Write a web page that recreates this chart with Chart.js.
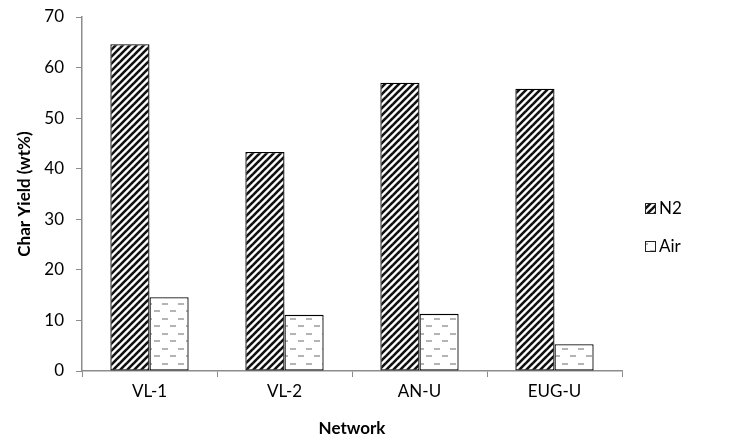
<!DOCTYPE html>
<html lang="en">
<head>
    <meta charset="UTF-8">
    <title>Char Yield</title>
    <style>
        html, body { margin: 0; padding: 0; background: #fff; }
        #wrap { width: 738px; height: 443px; }
    </style>
</head>
<body>
    <div id="wrap">
        <canvas id="myChart" width="738" height="443"></canvas>
    </div>

    <script src="https://cdn.jsdelivr.net/npm/chart.js"></script>

    <script>
        const categories = ['VL-1', 'VL-2', 'AN-U', 'EUG-U']
        const n2Values = [64.6, 43.3, 57.0, 55.8]
        const airValues = [14.6, 11.1, 11.3, 5.3]
        const yTicks = [0, 10, 20, 30, 40, 50, 60, 70]
        const fontFamily = 'Lato, "Open Sans", sans-serif'

        // diagonal stripes for N2
        function stripePattern(){
            const c = document.createElement('canvas')
            c.width = 7; c.height = 7
            const g = c.getContext('2d')
            g.fillStyle = '#fff'
            g.fillRect(0, 0, 7, 7)
            g.strokeStyle = '#111'
            g.lineWidth = 2.6
            for(let k = -1; k <= 1; k++){
                g.beginPath()
                g.moveTo(k * 7 - 1, 8)
                g.lineTo(k * 7 + 8, -1)
                g.stroke()
            }
            return g.createPattern(c, 'repeat')
        }
        // grey dashes for Air
        function dashPattern(){
            const c = document.createElement('canvas')
            c.width = 16; c.height = 15
            const g = c.getContext('2d')
            g.fillStyle = '#fff'
            g.fillRect(0, 0, 16, 15)
            g.fillStyle = '#b4b4b4'
            g.fillRect(2, 3, 6, 2)
            g.fillRect(10, 10, 6, 2)
            return g.createPattern(c, 'repeat')
        }
        const n2Fill = stripePattern()
        const airFill = dashPattern()

        const sideLegend = {
            id: 'sideLegend',
            afterDraw(chart){
                const ctx = chart.ctx
                const items = [
                    { text: 'N2', fill: n2Fill, y: 208 },
                    { text: 'Air', fill: airFill, y: 246 }
                ]
                ctx.save()
                items.forEach(it => {
                    ctx.fillStyle = it.fill
                    ctx.fillRect(645, it.y - 5, 10, 10)
                    ctx.strokeStyle = '#222'
                    ctx.lineWidth = 1
                    ctx.strokeRect(645.5, it.y - 4.5, 10, 10)
                    ctx.fillStyle = '#000'
                    ctx.font = '17px ' + fontFamily
                    ctx.textBaseline = 'middle'
                    ctx.fillText(it.text, 659, it.y + 1)
                })
                ctx.restore()
            }
        }

        function displayChart(){
            const ctx = document.getElementById('myChart')
            new Chart(ctx, {
                type: 'bar',
                data: {
                    labels: categories,
                    datasets: [{
                        label: 'N2',
                        data: n2Values,
                        backgroundColor: n2Fill,
                        borderColor: '#000',
                        borderWidth: 1.3,
                        borderSkipped: false
                    }, {
                        label: 'Air',
                        data: airValues,
                        backgroundColor: airFill,
                        borderColor: '#000',
                        borderWidth: 1.3,
                        borderSkipped: false
                    }]
                },
                options: {
                    responsive: false,
                    animation: false,
                    layout: { padding: { left: 0, right: 116, top: 17, bottom: 0 } },
                    datasets: { bar: { categoryPercentage: 0.58, barPercentage: 1 } },
                    scales: {
                        x: {
                            grid: { display: true, drawOnChartArea: false, offset: true, tickLength: 6, color: '#8c8c8c' },
                            border: { color: '#8c8c8c', width: 1.5 },
                            ticks: { color: '#000', font: { family: fontFamily, size: 17 }, padding: 4 },
                            title: { display: true, text: 'Network', color: '#000', font: { family: fontFamily, size: 17, weight: 'bold' }, padding: { top: 8 } },
                            afterFit(scale){ scale.height = 72 }
                        },
                        y: {
                            min: 0, max: 70,
                            afterBuildTicks(scale){ scale.ticks = yTicks.map(v => ({ value: v })) },
                            grid: { display: true, drawOnChartArea: false, tickLength: 6, color: '#8c8c8c' },
                            border: { color: '#8c8c8c', width: 1.5 },
                            ticks: { color: '#000', font: { family: fontFamily, size: 17 }, padding: 12 },
                            title: { display: true, text: 'Char Yield (wt%)', color: '#000', font: { family: fontFamily, size: 17, weight: 'bold' }, padding: { top: 14, bottom: 0 } },
                            afterFit(scale){
                                scale.width = 82
                                scale.paddingTop = 0
                                scale.paddingBottom = 0
                            }
                        }
                    },
                    plugins: {
                        legend: { display: false },
                        tooltip: { enabled: false }
                    }
                },
                plugins: [sideLegend]
            })
        }
        displayChart()
    </script>
</body>
</html>
